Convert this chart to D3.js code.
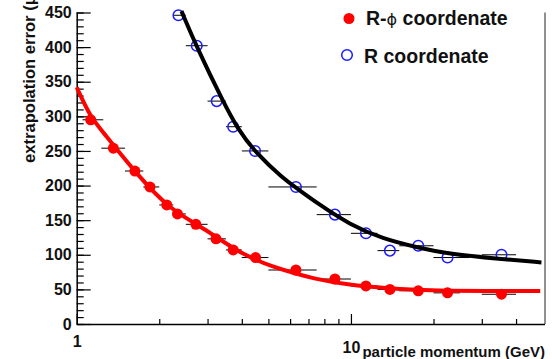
<!DOCTYPE html>
<html><head><meta charset="utf-8">
<script src="https://cdn.jsdelivr.net/npm/d3@7"></script>
<style>
html,body{margin:0;padding:0;background:#fff;}
svg{display:block;font-family:"Liberation Sans",Arial,sans-serif;font-weight:bold;}
</style></head>
<body>
<svg id="chart" width="552" height="359"></svg>
<script>
// ---- data ----
const redX   = [1.125,1.36,1.63,1.85,2.13,2.33,2.72,3.22,3.72,4.49,6.30,8.74,11.34,13.87,17.6,22.5,35.4];
const redY   = [295,254,221,198,172,159,144,123,107,96,78,65,55,50,48,45,43];
const redXlo = [1.05,1.23,1.5,1.75,2.0,2.25,2.5,3.0,3.5,4.0,5.0,7.5,10,12.5,15,20,30];
const redXhi = [1.25,1.5,1.75,2.0,2.25,2.5,3.0,3.5,4.0,5.0,7.5,10,12.5,15,20,25,40];

const blueX   = [2.35,2.74,3.24,3.72,4.47,6.30,8.74,11.34,13.87,17.6,22.5,35.4];
const blueY   = [446,402,322,285,250,198,158,131,106,113,96,100];
const blueXlo = [2.25,2.5,3.0,3.5,4.0,5.0,7.5,10,12.5,15,20,30];
const blueXhi = [2.5,3.0,3.5,4.0,5.0,7.5,10,12.5,15,20,27,40];

// fitted curves
const redFitX  = [1,1.125,1.25,1.65,2.19,2.9,3.83,5.06,7.5,9.9,13.1,17.3,22.9,30,49];
const redFitY  = [342,298,277,217,165,139,105,83,64,56.5,52,49,48,47.5,47.5];
const blackFitX = [2.41,2.74,3.45,3.85,4.47,5.67,6.30,7.5,9.9,13.1,17.3,22.9,35,49.5];
const blackFitY = [452,400,318,283,248,210,197,175,143.5,123,111,101,94,89];

const yTicks = [0,50,100,150,200,250,300,350,400,450];
const xTickLabels = [1,10];

const xTitle = "particle momentum (GeV)";
const yTitle = "extrapolation error (μm)";
const legendRed = ["R-", "ϕ", " coordenate"];
const legendBlue = "R coordenate";

// ---- layout ----
const svg = d3.select("#chart");
const X0 = 76.7, X1 = 545, Y0 = 324, Y1 = 12.5;
const x = d3.scaleLog().domain([1, 51]).range([X0, X1]);
const y = d3.scaleLinear().domain([0, 450]).range([Y0, Y1]);

// frame right side
svg.append("line").attr("x1", X1).attr("x2", X1).attr("y1", Y1).attr("y2", Y0)
  .attr("stroke", "#222").attr("stroke-width", 1);

// y axis (ticks inward)
const yMinor = d3.range(0, 451, 10);
const yAxisMinor = d3.axisRight(y).tickValues(yMinor).tickSize(7).tickFormat("");
svg.append("g").attr("transform", `translate(${X0},0)`).call(yAxisMinor)
  .call(g => g.select(".domain").remove())
  .selectAll("line").attr("stroke", "#000").attr("stroke-width", 1.2);
const yAxis = d3.axisRight(y).tickValues(yTicks).tickSize(14).tickFormat(d3.format("d"));
const gy = svg.append("g").attr("transform", `translate(${X0},0)`).call(yAxis);
gy.select(".domain").attr("d", `M0.5,${Y1}V${Y0}`).attr("stroke", "#000").attr("stroke-width", 1.5);
gy.selectAll("line").attr("stroke", "#000").attr("stroke-width", 1.2);
gy.selectAll("text").attr("x", -5).attr("text-anchor", "end")
  .attr("font-size", 16).attr("font-weight", "bold").attr("fill", "#111")
  .attr("font-family", "Liberation Sans, Arial, sans-serif");

// x axis (ticks inward, upward)
const xMinorVals = [2,3,4,5,6,7,8,9,20,30,40];
const gxm = svg.append("g").attr("transform", `translate(0,${Y0})`)
  .call(d3.axisTop(x).tickValues(xMinorVals).tickSize(5).tickFormat(""));
gxm.select(".domain").remove();
gxm.selectAll("line").attr("stroke", "#000").attr("stroke-width", 1.2);
const gx = svg.append("g").attr("transform", `translate(0,${Y0})`)
  .call(d3.axisTop(x).tickValues(xTickLabels).tickSize(10).tickFormat(d3.format("d")));
gx.select(".domain").attr("d", `M${X0},0.5H${X1}`).attr("stroke", "#000").attr("stroke-width", 1.5);
gx.selectAll("line").attr("stroke", "#000").attr("stroke-width", 1.2);
gx.selectAll("text").attr("font-size", 16).attr("font-weight", "bold").attr("fill", "#111")
  .attr("font-family", "Liberation Sans, Arial, sans-serif")
  .attr("y", d => d === 1 ? 23 : 29).attr("dy", 0);

// titles
svg.append("text").attr("x", X1).attr("y", 357).attr("text-anchor", "end")
  .attr("font-size", 15).attr("fill", "#111").text(xTitle);
svg.append("text").attr("transform", "translate(35,163) rotate(-90)")
  .attr("text-anchor", "start").attr("font-size", 16.6).attr("fill", "#111").text(yTitle);

// error bars
const ebar = (xs, ys, lo, hi) => svg.append("g").selectAll("line").data(xs).join("line")
  .attr("x1", (d, i) => x(lo[i])).attr("x2", (d, i) => x(hi[i]))
  .attr("y1", (d, i) => y(ys[i])).attr("y2", (d, i) => y(ys[i]))
  .attr("stroke", "#000").attr("stroke-width", 1);
ebar(redX, redY, redXlo, redXhi);
ebar(blueX, blueY, blueXlo, blueXhi);

// markers
svg.append("g").selectAll("circle").data(redX).join("circle")
  .attr("cx", d => x(d)).attr("cy", (d, i) => y(redY[i])).attr("r", 5.5).attr("fill", "#ff0000");
svg.append("g").selectAll("circle").data(blueX).join("circle")
  .attr("cx", d => x(d)).attr("cy", (d, i) => y(blueY[i])).attr("r", 5.3)
  .attr("fill", "none").attr("stroke", "#1a1aff").attr("stroke-width", 1.5);

// fit curves
const line = d3.line().x(d => x(d[0])).y(d => y(d[1])).curve(d3.curveBasis);
svg.append("path").datum(redFitX.map((v, i) => [v, redFitY[i]])).attr("d", line)
  .attr("fill", "none").attr("stroke", "#ff0000").attr("stroke-width", 4);
svg.append("path").datum(blackFitX.map((v, i) => [v, blackFitY[i]])).attr("d", line)
  .attr("fill", "none").attr("stroke", "#000").attr("stroke-width", 4);

// legend
svg.append("circle").attr("cx", 349).attr("cy", 18.5).attr("r", 5.5).attr("fill", "#ff0000");
const t1 = svg.append("text").attr("x", 366).attr("y", 25).attr("font-size", 19.5).attr("fill", "#111");
t1.append("tspan").text(legendRed[0]);
t1.append("tspan").attr("font-weight", "normal").attr("font-family", "DejaVu Sans").attr("font-size", 16).text(legendRed[1]);
t1.append("tspan").text(legendRed[2]);
svg.append("circle").attr("cx", 347).attr("cy", 55).attr("r", 5.3)
  .attr("fill", "none").attr("stroke", "#1a1aff").attr("stroke-width", 1.5);
svg.append("text").attr("x", 364).attr("y", 63).attr("font-size", 19.5).attr("fill", "#111").text(legendBlue);
</script>
</body></html>
